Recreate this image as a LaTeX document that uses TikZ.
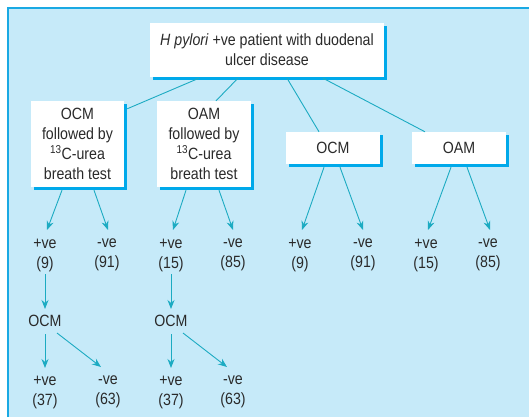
\documentclass[tikz,border=0pt]{standalone}
\usepackage{fontspec}
\setmainfont{Liberation Sans}[FakeStretch=0.87]
\usetikzlibrary{arrows.meta,calc,shadows}
\definecolor{bgblue}{HTML}{C6EAF9}
\definecolor{edgeblue}{HTML}{1AA9E3}
\definecolor{shadowblue}{HTML}{00A9EA}
\definecolor{linecol}{HTML}{1CABC2}
\definecolor{txt}{HTML}{2A2A2A}
\begin{document}
\begin{tikzpicture}[x=1pt,y=-1pt,
  box/.style={draw=none, fill=white, inner sep=0pt, align=center,
    font=\fontsize{16.3}{20}\selectfont, text=txt,
    drop shadow={shadow xshift=3pt, shadow yshift=-3pt, fill=shadowblue, opacity=1}},
  lab/.style={inner sep=0pt, align=center, font=\fontsize{16.3}{20}\selectfont, text=txt},
  conn/.style={draw=linecol, line width=0.9pt},
  arr/.style={conn, -{Stealth[length=9pt,width=7pt]}}]
\useasboundingbox (0,0) rectangle (529,417);
\fill[bgblue] (8,8) rectangle (529,417);
\draw[edgeblue, line width=1.2pt] (8,417) -- (8,8) -- (529,8);

\node[box, minimum width=234pt, minimum height=54pt] (top) at (267,50)
  {\textit{H pylori} +ve patient with duodenal\\ulcer disease};
\node[box, minimum width=93pt, minimum height=86pt] (b1) at (77.5,144)
  {OCM\\followed by\\\textsuperscript{13}C-urea\\breath test};
\node[box, minimum width=94pt, minimum height=86pt] (b2) at (204,144)
  {OAM\\followed by\\\textsuperscript{13}C-urea\\breath test};
\node[box, minimum width=94pt, minimum height=32pt] (b3) at (333,148) {OCM};
\node[box, minimum width=94pt, minimum height=32pt] (b4) at (459,148) {OAM};

\draw[conn] ($(top.south)+(-68,1)$) -- ($(b1.north east)+(3,8)$);
\draw[conn] ($(top.south)+(-29,1)$) -- ($(b2.north)+(12,0)$);
\draw[conn] ($(top.south)+(20,1)$) -- ($(b3.north)+(-14,0)$);
\draw[conn] ($(top.south)+(56,1)$) -- ($(b4.north)+(-34,0)$);

\node[lab] (a1) at (45,255) {+ve\\(9)};
\node[lab] (a2) at (107,255) {-ve\\(91)};
\node[lab] (a3) at (171,255) {+ve\\(15)};
\node[lab] (a4) at (233,255) {-ve\\(85)};
\node[lab] (a5) at (300,255) {+ve\\(9)};
\node[lab] (a6) at (363,255) {-ve\\(91)};
\node[lab] (a7) at (426,255) {+ve\\(15)};
\node[lab] (a8) at (488,255) {-ve\\(85)};

\draw[arr] ($(b1.south)+(-15.5,3)$) -- ($(a1.center)+(2,-25)$);
\draw[arr] ($(b1.south)+(16.5,3)$) -- ($(a2.center)+(1,-25)$);
\draw[arr] ($(b2.south)+(-18,3)$) -- ($(a3.center)+(2,-25)$);
\draw[arr] ($(b2.south)+(15,3)$) -- ($(a4.center)+(0,-25)$);
\draw[arr] ($(b3.south)+(-9,3)$) -- ($(a5.center)+(2,-25)$);
\draw[arr] ($(b3.south)+(7,3)$) -- ($(a6.center)+(0,-25)$);
\draw[arr] ($(b4.south)+(-8,3)$) -- ($(a7.center)+(2,-25)$);
\draw[arr] ($(b4.south)+(8,3)$) -- ($(a8.center)+(2,-25)$);

\node[lab] (o1) at (45,321) {OCM};
\node[lab] (o2) at (171,321) {OCM};
\node[lab] (c1) at (45,392) {+ve\\(37)};
\node[lab] (d1) at (108,392) {-ve\\(63)};
\node[lab] (c2) at (171,392) {+ve\\(37)};
\node[lab] (d2) at (233,392) {-ve\\(63)};

\draw[arr] ($(a1.center)+(0,19)$) -- ($(o1.center)+(0,-12)$);
\draw[arr] ($(a3.center)+(0,19)$) -- ($(o2.center)+(0,-12)$);
\draw[arr] ($(o1.center)+(0,13)$) -- ($(c1.center)+(0,-24)$);
\draw[arr] ($(o1.center)+(12,12)$) -- ($(d1.center)+(-7,-25)$);
\draw[arr] ($(o2.center)+(0,13)$) -- ($(c2.center)+(0,-24)$);
\draw[arr] ($(o2.center)+(12,12)$) -- ($(d2.center)+(-6,-25)$);
\end{tikzpicture}
\end{document}
